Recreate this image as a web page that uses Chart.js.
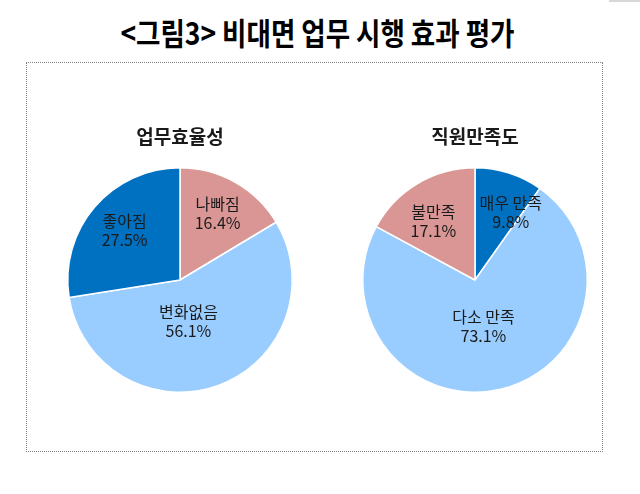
<!DOCTYPE html>
<html><head><meta charset="utf-8">
<script src="https://cdn.jsdelivr.net/npm/chart.js@4.4.1/dist/chart.umd.min.js"></script>
<style>
html,body{margin:0;padding:0;background:#fff;width:640px;height:494px;overflow:hidden;position:relative;font-family:"Noto Sans CJK KR","Noto Sans",sans-serif;}
#title{position:absolute;left:0;top:14px;width:640px;text-align:center;white-space:nowrap;}
#title span{display:inline-block;font-size:31px;font-weight:bold;color:#000;line-height:36px;transform-origin:center;}
#box{position:absolute;left:26px;top:62px;width:575px;height:388px;border:1px dotted #808080;}
#corner{position:absolute;left:609px;top:0;width:31px;height:2px;background:#d8d8d8;}
.c{position:absolute;top:120px;width:280px;height:280px;}
</style></head><body>
<div id="corner"></div>
<div id="title"><span id="tt">&lt;그림3&gt; 비대면 업무 시행 효과 평가</span></div>
<div id="box"></div>
<div class="c" style="left:40px"><canvas id="c1"></canvas></div>
<div class="c" style="left:335px"><canvas id="c2"></canvas></div>
<script>
const chartTitle = "<그림3> 비대면 업무 시행 효과 평가";
const leftTitle = "업무효율성";
const leftLabels = ["나빠짐", "변화없음", "좋아짐"];
const leftValues = [16.4, 56.1, 27.5];
const rightTitle = "직원만족도";
const rightLabels = ["매우 만족", "다소 만족", "불만족"];
const rightValues = [9.8, 73.1, 17.1];
const leftColors = ["#D99694", "#99CCFF", "#0070C0"];
const rightColors = ["#0070C0", "#99CCFF", "#D99694"];

// fit title width
const tt = document.getElementById('tt');
tt.textContent = chartTitle;
const w = tt.getBoundingClientRect().width;
tt.style.transform = 'translateX(-3px) scaleX(' + (394 / w) + ')';

const labelPlugin = {
  id: 'sliceLabels',
  afterDatasetsDraw(chart, args, opts) {
    const ctx = chart.ctx;
    const meta = chart.getDatasetMeta(0);
    const ds = chart.data.datasets[0];
    ctx.save();
    ctx.font = '16px "Noto Sans CJK KR", "Noto Sans", sans-serif';
    ctx.fillStyle = '#1a1a1a';
    ctx.textAlign = 'center';
    ctx.textBaseline = 'middle';
    meta.data.forEach((arc, i) => {
      const mid = (arc.startAngle + arc.endAngle) / 2 + (opts.shift[i] || 0);
      const r = arc.outerRadius * opts.radius[i];
      const x = arc.x + Math.cos(mid) * r;
      const y = arc.y + Math.sin(mid) * r;
      ctx.fillText(chart.data.labels[i], x, y - 9.5);
      ctx.fillText(ds.data[i].toFixed(1) + '%', x, y + 9.5);
    });
    ctx.restore();
  }
};

function makePie(id, title, labels, values, colors, radius, shift) {
  return new Chart(document.getElementById(id), {
    type: 'pie',
    data: { labels: labels, datasets: [{ data: values, backgroundColor: colors, borderColor: '#ffffff', borderWidth: 1.5, hoverOffset: 0 }] },
    options: {
      responsive: true, maintainAspectRatio: false, animation: false,
      layout: { padding: { top: 5.6, bottom: 7, left: 0, right: 0 } },
      plugins: {
        legend: { display: false }, tooltip: { enabled: false },
        title: { display: true, text: title, color: '#1a1a1a', font: { size: 19, weight: 'bold', family: '"Noto Sans CJK KR", "Noto Sans", sans-serif', lineHeight: 1.2 }, padding: { top: 0, bottom: 18.6 } },
        sliceLabels: { radius: radius, shift: shift }
      }
    },
    plugins: [labelPlugin]
  });
}

makePie('c1', leftTitle, leftLabels, leftValues, leftColors, [0.68, 0.38, 0.66], [0, 0.15, 0.02]);
makePie('c2', rightTitle, rightLabels, rightValues, rightColors, [0.68, 0.42, 0.64], [0.18, 0.05, -0.08]);
</script>
</body></html>
